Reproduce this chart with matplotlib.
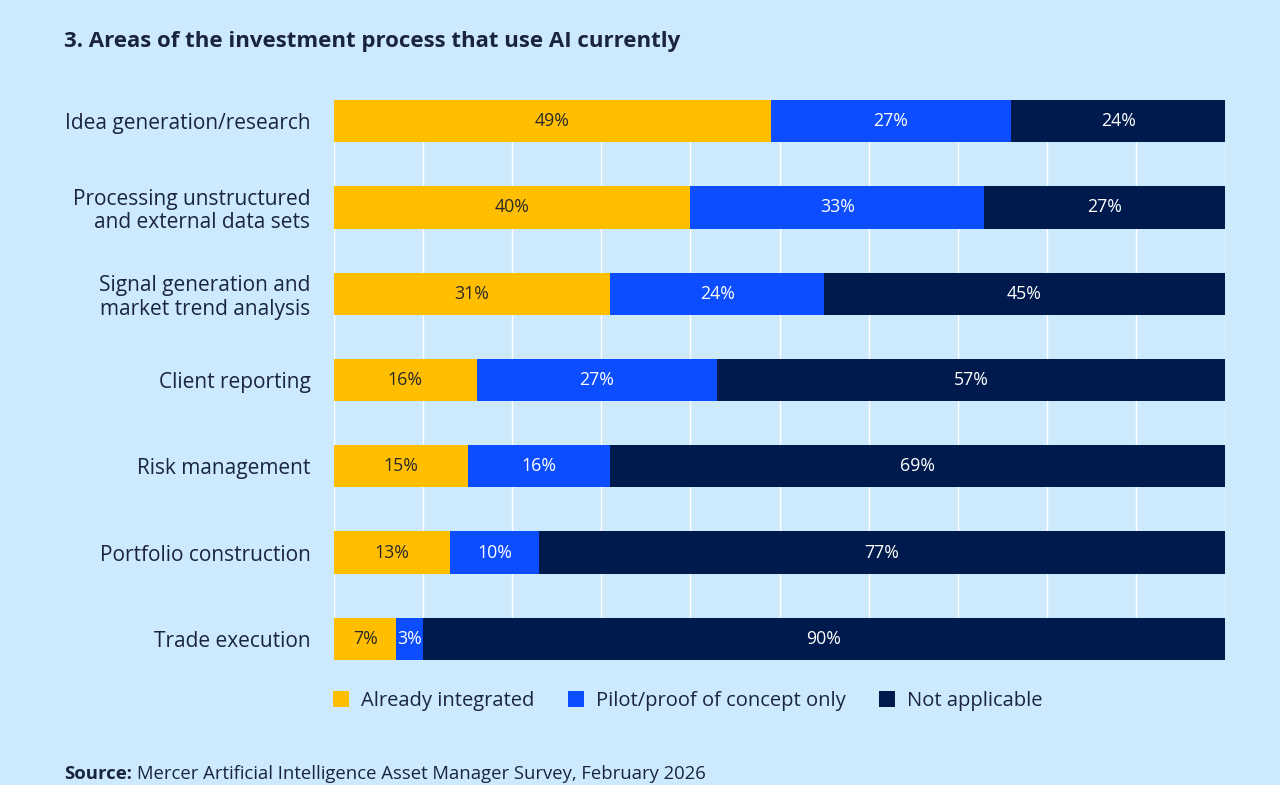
import matplotlib
matplotlib.use('Agg')
import numpy as np
from matplotlib import pyplot as plt
from matplotlib.patches import Patch

plt.rcParams['font.family'] = ['Open Sans', 'DejaVu Sans']

# Daten
categories = ['Idea generation/research',
              'Processing unstructured\nand external data sets',
              'Signal generation and\nmarket trend analysis',
              'Client reporting',
              'Risk management',
              'Portfolio construction',
              'Trade execution']
integrated = [49, 40, 31, 16, 15, 13, 7]
pilot = [27, 33, 24, 27, 16, 10, 3]
not_applicable = [24, 27, 45, 57, 69, 77, 90]
series_names = ['Already integrated', 'Pilot/proof of concept only', 'Not applicable']

bg = '#cdeafc'
c_yellow = '#ffbe00'
c_blue = '#0b4dff'
c_navy = '#001a4d'
text_dark = '#1a2440'

fig = plt.figure(figsize=(12.8, 7.85), dpi=100, facecolor=bg)
ax = fig.add_axes([334 / 1280, 1 - 660 / 785, (1225 - 334) / 1280, 560 / 785])
ax.set_facecolor(bg)

y = np.arange(len(categories))
h = 0.49
left = np.zeros(len(categories))
for vals, col, tcol in [(integrated, c_yellow, '#2a2a2a'),
                        (pilot, c_blue, 'white'),
                        (not_applicable, c_navy, 'white')]:
    vals = np.array(vals)
    ax.barh(y, vals, left=left, height=h, color=col, zorder=3)
    for yi, l, v in zip(y, left, vals):
        ax.text(l + v / 2, yi, f'{v}%', ha='center', va='center',
                color=tcol, fontsize=12.8, zorder=4)
    left = left + vals

ax.set_xlim(0, 100)
ax.set_ylim(len(categories) - 1 + h / 2, -h / 2)
ax.set_xticks(np.arange(0, 101, 10))
ax.grid(axis='x', color='white', linewidth=1, zorder=0)
ax.tick_params(axis='x', length=0, labelbottom=False)
ax.tick_params(axis='y', length=0, pad=17)
ax.set_yticks(y)
ax.set_yticklabels(categories, fontsize=15, color=text_dark, linespacing=1.15)
for lab in ax.get_yticklabels():
    lab.set_horizontalalignment('right')
for s in ax.spines.values():
    s.set_visible(False)

# Titel
fig.text(64 / 1280, 1 - 42 / 785, '3. Areas of the investment process that use AI currently',
         fontsize=16, fontweight='bold', color=text_dark, va='center')

# Legende
handles = [Patch(facecolor=c, edgecolor='none') for c in (c_yellow, c_blue, c_navy)]
fig.legend(handles, series_names, loc='center left',
           bbox_to_anchor=(315 / 1280, 1 - 701 / 785), ncol=3, frameon=False,
           fontsize=14.5, handlelength=0.8, handleheight=0.8, handletextpad=0.6,
           columnspacing=1.65, labelcolor=text_dark)

# Quelle
fig.text(64 / 1280, 1 - 774 / 785, 'Source:', fontsize=13.3, fontweight='bold',
         color=text_dark, va='center')
fig.text(137 / 1280, 1 - 774 / 785, 'Mercer Artificial Intelligence Asset Manager Survey, February 2026',
         fontsize=13.3, color=text_dark, va='center')

fig.savefig('out.png', dpi=100, facecolor=bg)
